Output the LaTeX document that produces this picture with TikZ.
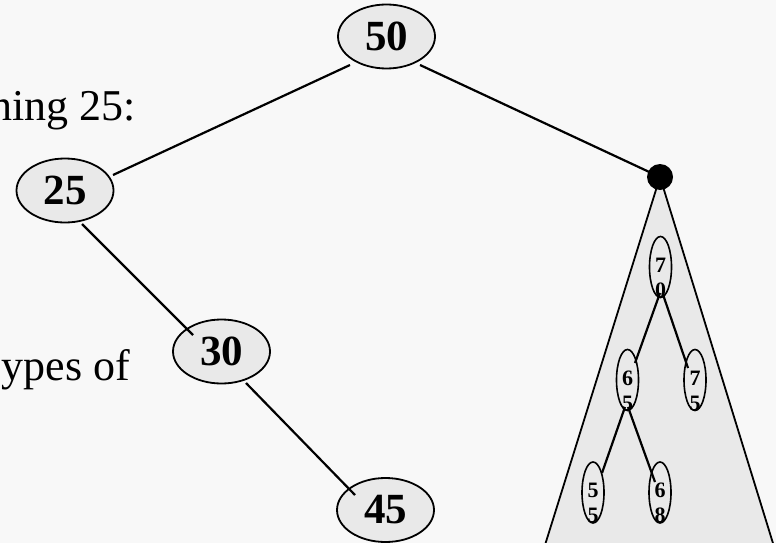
\documentclass[tikz,border=0pt]{standalone}
\usepackage{fontspec}
\setmainfont{Liberation Serif}
\usetikzlibrary{shapes.geometric,calc}
\definecolor{bg}{RGB}{248,248,248}
\definecolor{nodefill}{RGB}{233,233,233}
\begin{document}
\begin{tikzpicture}[x=1pt,y=-1pt,
  bignode/.style={ellipse,draw,line width=1.8pt,fill=nodefill,minimum width=97pt,minimum height=64pt,inner sep=0pt,font=\fontsize{43}{50}\selectfont\bfseries},
  smallnode/.style={ellipse,draw,line width=1.6pt,minimum width=22pt,minimum height=61pt,inner sep=0pt},
  digits/.style={font=\fontsize{22}{25}\selectfont\bfseries,align=center,inner sep=0pt},
  edgeline/.style={line width=2.2pt},
  sidetext/.style={font=\fontsize{44}{50}\selectfont,inner sep=0pt,anchor=base east}]
\useasboundingbox (0,0) rectangle (776,543);
\clip (0,0) rectangle (776,543);
\fill[bg] (0,0) rectangle (776,543);

% side texts (cut by the left edge)
\node[sidetext] (t1) at (136,120) {ning 25:};
\node[sidetext] (t2) at (130,380) {ypes of};

% subtree triangle and its root dot
\coordinate (apex) at (660,177);
\filldraw[fill=nodefill,line width=1.8pt] (apex) -- (542.5,553) -- (776,553) -- cycle;
\node[circle,fill=black,minimum size=26pt,inner sep=0pt] (dot) at (apex) {};

% main nodes
\node[bignode] (n50) at (386.5,36.5) {50};
\node[bignode] (n25) at (65,190.5) {25};
\node[bignode] (n30) at (221.5,351.5) {30};
\node[bignode] (n45) at (385.5,510) {45};

% small nodes inside the triangle
\node[digits] (d70) at (660.5,277.5) {7\\0};
\node[digits] (d65) at (627.5,390.5) {6\\5};
\node[digits] (d75) at (695,390.5) {7\\5};
\node[digits] (d55) at (593,503) {5\\5};
\node[digits] (d68) at (660,503) {6\\8};
\node[smallnode] (n70) at (660.5,267) {};
\node[smallnode] (n65) at (627.5,380) {};
\node[smallnode] (n75) at (695,380) {};
\node[smallnode] (n55) at (593,492.5) {};
\node[smallnode] (n68) at (660,492.5) {};

% edges
\draw[edgeline] ($(n50)+(-36.5,28.5)$) -- ($(n25)+(48,-15.5)$);
\draw[edgeline] ($(n50)+(33.5,28.5)$) -- (dot.center);
\draw[edgeline] ($(n25)+(17,33.5)$) -- ($(n30)+(-28.5,-16.5)$);
\draw[edgeline] ($(n30)+(24.5,31.5)$) -- ($(n45)+(-30.5,-15)$);
\draw[edgeline] ($(n70)+(-0.5,26)$) -- ($(n65)+(7.5,-17)$);
\draw[edgeline] ($(n70)+(2,26)$) -- ($(n75)+(-7,-12)$);
\draw[edgeline] ($(n65)+(-2.5,27)$) -- ($(n55)+(9,-19.5)$);
\draw[edgeline] ($(n65)+(0.5,27)$) -- ($(n68)+(-5,-10.5)$);
\end{tikzpicture}
\end{document}
